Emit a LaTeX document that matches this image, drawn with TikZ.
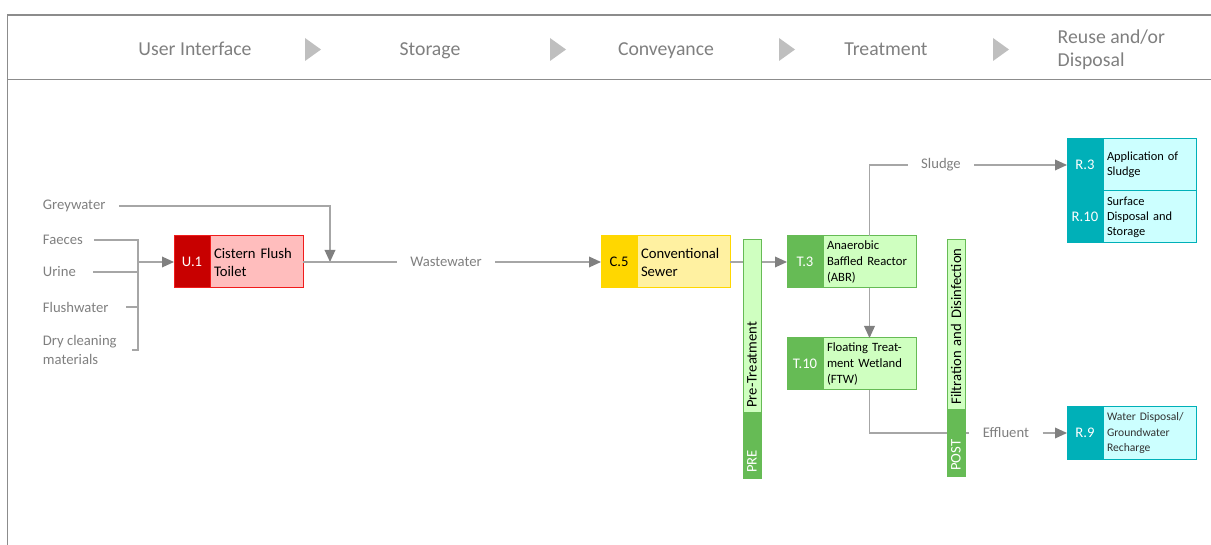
\documentclass[tikz,border=0pt]{standalone}
\usepackage{fontspec}
\setmainfont{Carlito}
\usetikzlibrary{positioning, arrows.meta, calc}
\definecolor{txtGray}{HTML}{7F7F7F}
\definecolor{lineGray}{HTML}{A6A6A6}
\definecolor{tipGray}{HTML}{808080}
\definecolor{frameGray}{HTML}{8C8C8C}
\definecolor{triGray}{HTML}{BFBFBF}
\definecolor{uDark}{HTML}{C80000}
\definecolor{uLight}{HTML}{FFBDBD}
\definecolor{uLine}{HTML}{F01C1C}
\definecolor{cDark}{HTML}{FFD700}
\definecolor{cLight}{HTML}{FFF1A1}
\definecolor{tDark}{HTML}{66BB55}
\definecolor{tLight}{HTML}{CFFFC0}
\definecolor{rDark}{HTML}{00B0B8}
\definecolor{rLight}{HTML}{CCFFFF}

\begin{document}
\begin{tikzpicture}[x=0.75pt, y=-0.75pt,
  code/.style={minimum width=27pt, minimum height=39pt, inner sep=0pt,
               outer sep=0pt, anchor=north west, text=white, line width=0.75pt,
               font=\fontsize{11}{13}\selectfont},
  desc/.style={minimum width=69.75pt, minimum height=39pt, text width=63.75pt,
               inner xsep=3pt, inner ysep=0pt, outer sep=0pt, align=left,
               line width=0.75pt, font=\fontsize{11}{13.5}\selectfont},
  small/.style={font=\fontsize{9.5}{12}\selectfont},
  lbl/.style={text=txtGray, font=\fontsize{11}{14}\selectfont, inner sep=2pt,
              anchor=west, align=left},
  flow/.style={text=txtGray, font=\fontsize{11}{13}\selectfont,
               inner xsep=10pt, inner ysep=2pt},
  head/.style={text=txtGray, font=\fontsize{14.8}{17.3}\selectfont,
               anchor=base, align=left},
  bar/.style={rotate=90, minimum height=13.5pt, inner xsep=4pt, inner ysep=0pt,
              outer sep=0pt, align=left, anchor=east, line width=0.75pt,
              font=\fontsize{11}{13}\selectfont},
  line/.style={draw=lineGray, line width=1pt},
  arr/.style={line, -{Triangle[length=9pt, width=8pt, color=tipGray]}}
]
\useasboundingbox (0,0) rectangle (1211,545);

% frame and header
\draw[frameGray, line width=1.1pt] (1211,15) -- (7.5,15) -- (7.5,545);
\draw[frameGray, line width=1.1pt] (7.5,79.5) -- (1211,79.5);
\node[head] (hUser) at (195,55.5) {User Interface};
\node[head] (hStore) at (430,55.5) {Storage};
\node[head] (hConv) at (666,55.5) {Conveyance};
\node[head] (hTreat) at (886,55.5) {Treatment};
\node[head, anchor=base west] (hReuse) at (1053,67) {Reuse and/or\\Disposal};
\foreach \x in {305,550,779,993}
  \fill[triGray] (\x,38) -- (\x+16,49.5) -- (\x,61) -- cycle;

% technologies
\node[code, fill=uDark, draw=uLine] (u1) at (174,236) {U.1};
\node[desc, fill=uLight, draw=uLine, right=0pt of u1] (u1t) {Cistern Flush\\Toilet};
\node[code, fill=cDark, draw=cDark, text=black] (c5) at (601,236) {C.5};
\node[desc, fill=cLight, draw=cDark, right=0pt of c5] (c5t) {Conventional\\Sewer};
\node[code, fill=tDark, draw=tDark] (t3) at (787,236) {T.3};
\node[desc, small, fill=tLight, draw=tDark, right=0pt of t3] (t3t) {Anaerobic\\Baffled Reactor\\(ABR)};
\node[code, fill=tDark, draw=tDark] (t10) at (787,338) {T.10};
\node[desc, small, fill=tLight, draw=tDark, right=0pt of t10] (t10t) {Floating Treat-\\ment Wetland\\(FTW)};
\node[code, fill=rDark, draw=rDark] (r3) at (1067,139) {R.3};
\node[desc, fill=rLight, draw=rDark, right=0pt of r3,
      font=\fontsize{9.3}{11.3}\selectfont] (r3t) {Application of\\Sludge};
\node[code, fill=rDark, draw=rDark, below=0pt of r3] (r10) {R.10};
\node[desc, fill=rLight, draw=rDark, right=0pt of r10,
      font=\fontsize{9.3}{11.3}\selectfont] (r10t) {Surface\\Disposal and\\Storage};
\node[code, fill=rDark, draw=rDark] (r9) at (1067,407) {R.9};
\node[desc, fill=rLight, draw=rDark, right=0pt of r9, text=black!80,
      font=\fontsize{8.7}{11.3}\selectfont] (r9t) {Water Disposal/\\Groundwater\\Recharge};

% products
\node[lbl] (grey) at (40,206) {Greywater};
\node[lbl] (faeces) at (40,240) {Faeces};
\node[lbl] (urine) at (40,272) {Urine};
\node[lbl] (flush) at (40,307) {Flushwater};
\node[lbl] (drycl) at (40,350) {Dry cleaning\\materials};
\node[flow] (ww) at (446,0 |- u1t.east) {Wastewater};
\node[flow] (sludge) at (941,0 |- r3.west) {Sludge};
\node[flow] (effl) at (1006,0 |- r9.west) {Effluent};

\coordinate (brk) at (138,0 |- u1.west);
\coordinate (join) at (330,0 |- u1t.east);

\draw[line] ([xshift=6pt]faeces.east) -- (faeces.east -| brk)
  -- (drycl.east -| brk) -- ([xshift=9pt]drycl.east);
\draw[line] ([xshift=11pt]urine.east) -- (urine.east -| brk);
\draw[line] ([xshift=11pt]flush.east) -- (flush.east -| brk);
\draw[arr] (brk) -- (u1.west);
\draw[arr] ([xshift=8pt]grey.east) -| (join);
\draw[line] (u1t.east) -- (ww.west);
\draw[arr] (ww.east) -- (c5.west);
\draw[arr] (c5t.east) -- (t3.west);
\draw[arr] (t3t.south) -- (t10t.north);
\draw[line] (t3t.north) |- (sludge.west);
\draw[arr] (sludge.east) -- (r3.west);
\draw[line] (t10t.south) |- (effl.west);
\draw[arr] (effl.east) -- (r9.west);

% pre / post treatment bars
\node[bar, fill=tLight, draw=tDark, minimum width=129.75pt, text width=121.75pt] (preup) at (752,240) {Pre-Treatment};
\node[bar, fill=tDark, draw=tDark, text=white, minimum width=48.75pt, text width=40.75pt] (prelow) at (preup.west) {PRE};
\node[bar, fill=tLight, draw=tDark, minimum width=127.5pt, text width=119.5pt] (postup) at (956,240) {Filtration and Disinfection};
\node[bar, fill=tDark, draw=tDark, text=white, minimum width=49.5pt, text width=41.5pt] (postlow) at (postup.west) {POST};
\end{tikzpicture}
\end{document}
